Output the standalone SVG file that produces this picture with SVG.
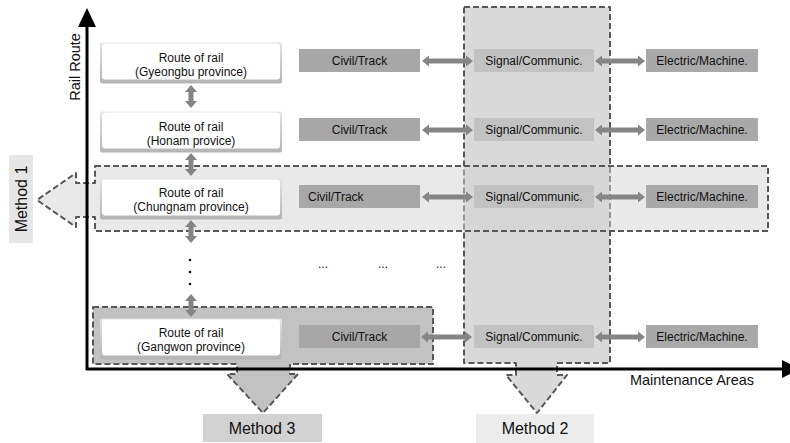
<svg xmlns="http://www.w3.org/2000/svg" width="790" height="443" viewBox="0 0 790 443">
<style>
text{font-family:"Liberation Sans",Arial,sans-serif;fill:#111;}
.t{font-size:12px;text-anchor:middle;}
.lab{font-size:16px;text-anchor:middle;}
.ax{font-size:14.5px;}
.dash{stroke:#585858;stroke-width:2;stroke-dasharray:6 3;stroke-linejoin:round;}
.rout{fill:url(#rg);}
.rin{fill:#fff;}
.civ{fill:#a7a7a7;}
.sig{fill:#c2c2c2;}
.ele{fill:#a9a9a9;}
.arr{fill:#858585;}
</style>
<defs>
<linearGradient id="rg" x1="0" y1="0" x2="0" y2="1">
<stop offset="0" stop-color="#e4e4e4"/>
<stop offset="1" stop-color="#b4b4b4"/>
</linearGradient>
</defs>

<g id="method2">
<path class="dash" fill="#d9d9d9" d="M464,7 H610 V363 H557 V375 H567 L537,413 L506,375 H516 V363 H464 Z"/>
</g>
<g id="method1">
<path class="dash" fill="#d4d4d4" fill-opacity="0.5" d="M95,166 H768 V231 H95 V217 H76 V227 L37,200 L76,173 V183 H95 Z"/>
</g>
<g id="method3">
<path class="dash" fill="#c2c2c2" d="M93,307 H433 V364 H290 V374 H298 L263,413 L227,374 H237 V364 H93 Z"/>
</g>

<g id="label-method1">
<rect x="9" y="155" width="24" height="88" fill="#e6e6e6"/>
<text class="lab" transform="translate(27,199) rotate(-90)">Method 1</text>
</g>
<g id="label-method2">
<rect x="476" y="414" width="118" height="29" fill="#ececec"/>
<text class="lab" x="535" y="434">Method 2</text>
</g>
<g id="label-method3">
<rect x="203" y="414" width="119" height="28" fill="#d2d2d2"/>
<text class="lab" x="262" y="434">Method 3</text>
</g>

<g id="route-gyeongbu">
<rect class="rout" x="100" y="42.5" width="182" height="41" rx="2"/>
<rect class="rin" x="102" y="43.5" width="178" height="36" rx="3"/>
<text class="t" x="191" y="62">Route of rail</text>
<text class="t" x="191" y="75.5">(Gyeongbu province)</text>
</g>
<g id="route-honam">
<rect class="rout" x="100" y="111.5" width="182" height="41" rx="2"/>
<rect class="rin" x="102" y="112.5" width="178" height="36" rx="3"/>
<text class="t" x="191" y="131">Route of rail</text>
<text class="t" x="191" y="144.5">(Honam provice)</text>
</g>
<g id="route-chungnam">
<rect class="rout" x="100" y="178.5" width="182" height="41" rx="2"/>
<rect class="rin" x="102" y="179.5" width="178" height="36" rx="3"/>
<text class="t" x="191" y="197">Route of rail</text>
<text class="t" x="191" y="210.5">(Chungnam province)</text>
</g>
<g id="route-gangwon">
<rect class="rout" x="100" y="318.5" width="182" height="41" rx="2"/>
<rect class="rin" x="102" y="319.5" width="178" height="36" rx="3"/>
<text class="t" x="191" y="337">Route of rail</text>
<text class="t" x="191" y="350.5">(Gangwon province)</text>
</g>

<g id="civil-1"><rect class="civ" x="299" y="49" width="121" height="23"/><text class="t" x="359.5" y="65">Civil/Track</text></g>
<g id="civil-2"><rect class="civ" x="299" y="118" width="121" height="23"/><text class="t" x="359.5" y="134">Civil/Track</text></g>
<g id="civil-3"><rect class="civ" x="299" y="185" width="121" height="23"/><text class="t" x="308" y="201" style="text-anchor:start">Civil/Track</text></g>
<g id="civil-4"><rect class="civ" x="299" y="325" width="121" height="23"/><text class="t" x="359.5" y="341">Civil/Track</text></g>

<g id="signal-1"><rect class="sig" x="474" y="49" width="120" height="23"/><text class="t" x="534" y="65">Signal/Communic.</text></g>
<g id="signal-2"><rect class="sig" x="474" y="118" width="120" height="23"/><text class="t" x="534" y="134">Signal/Communic.</text></g>
<g id="signal-3"><rect class="sig" x="474" y="185" width="120" height="23"/><text class="t" x="534" y="201">Signal/Communic.</text></g>
<g id="signal-4"><rect class="sig" x="474" y="325" width="120" height="23"/><text class="t" x="534" y="341">Signal/Communic.</text></g>

<g id="electric-1"><rect class="ele" x="646" y="49" width="112" height="23"/><text class="t" x="702" y="65">Electric/Machine.</text></g>
<g id="electric-2"><rect class="ele" x="646" y="118" width="112" height="23"/><text class="t" x="702" y="134">Electric/Machine.</text></g>
<g id="electric-3"><rect class="ele" x="646" y="185" width="112" height="23"/><text class="t" x="702" y="201">Electric/Machine.</text></g>
<g id="electric-4"><rect class="ele" x="646" y="325" width="112" height="23"/><text class="t" x="702" y="341">Electric/Machine.</text></g>

<g id="connectors">
<path class="arr" d="M422,61 L429,55.5 V58.5 H466 V55.5 L473,61 L466,66.5 V63.5 H429 V66.5 Z"/>
<path class="arr" d="M595,61 L602,55.5 V58.5 H638 V55.5 L645,61 L638,66.5 V63.5 H602 V66.5 Z"/>
<path class="arr" d="M422,130 L429,124.5 V127.5 H466 V124.5 L473,130 L466,135.5 V132.5 H429 V135.5 Z"/>
<path class="arr" d="M595,130 L602,124.5 V127.5 H638 V124.5 L645,130 L638,135.5 V132.5 H602 V135.5 Z"/>
<path class="arr" d="M422,197 L429,191.5 V194.5 H466 V191.5 L473,197 L466,202.5 V199.5 H429 V202.5 Z"/>
<path class="arr" d="M595,197 L602,191.5 V194.5 H638 V191.5 L645,197 L638,202.5 V199.5 H602 V202.5 Z"/>
<path class="arr" d="M421,337 L428,331.5 V334.5 H465 V331.5 L472,337 L465,342.5 V339.5 H428 V342.5 Z"/>
<path class="arr" d="M595,337 L602,331.5 V334.5 H638 V331.5 L645,337 L638,342.5 V339.5 H602 V342.5 Z"/>

<path class="arr" d="M191,85 L197,92 H193.5 V101 H197 L191,108 L185,101 H188.5 V92 H185 Z"/>
<path class="arr" d="M191,153 L197,160 H193.5 V169 H197 L191,176 L185,169 H188.5 V160 H185 Z"/>
<path class="arr" d="M191,220 L197,227 H193.5 V236 H197 L191,243 L185,236 H188.5 V227 H185 Z"/>
<path class="arr" d="M191,294 L197,301 H193.5 V310 H197 L191,317 L185,310 H188.5 V301 H185 Z"/>
</g>

<g id="ellipsis">
<circle cx="190" cy="260" r="1.3" fill="#111"/>
<circle cx="190" cy="272" r="1.3" fill="#111"/>
<circle cx="190" cy="284" r="1.3" fill="#111"/>
<text class="t" x="323" y="268">...</text>
<text class="t" x="383" y="268">...</text>
<text class="t" x="441" y="268">...</text>
</g>

<g id="axes">
<line x1="87" y1="370" x2="87" y2="26" stroke="#000" stroke-width="3"/>
<polygon points="87,8 96,27 78,27" fill="#000"/>
<line x1="86" y1="369" x2="784" y2="369" stroke="#000" stroke-width="3"/>
<polygon points="800,369 782,360 782,378" fill="#000"/>
<text class="ax" text-anchor="middle" transform="translate(80,67) rotate(-90)">Rail Route</text>
<text class="ax" x="692" y="385" text-anchor="middle">Maintenance Areas</text>
</g>
</svg>
